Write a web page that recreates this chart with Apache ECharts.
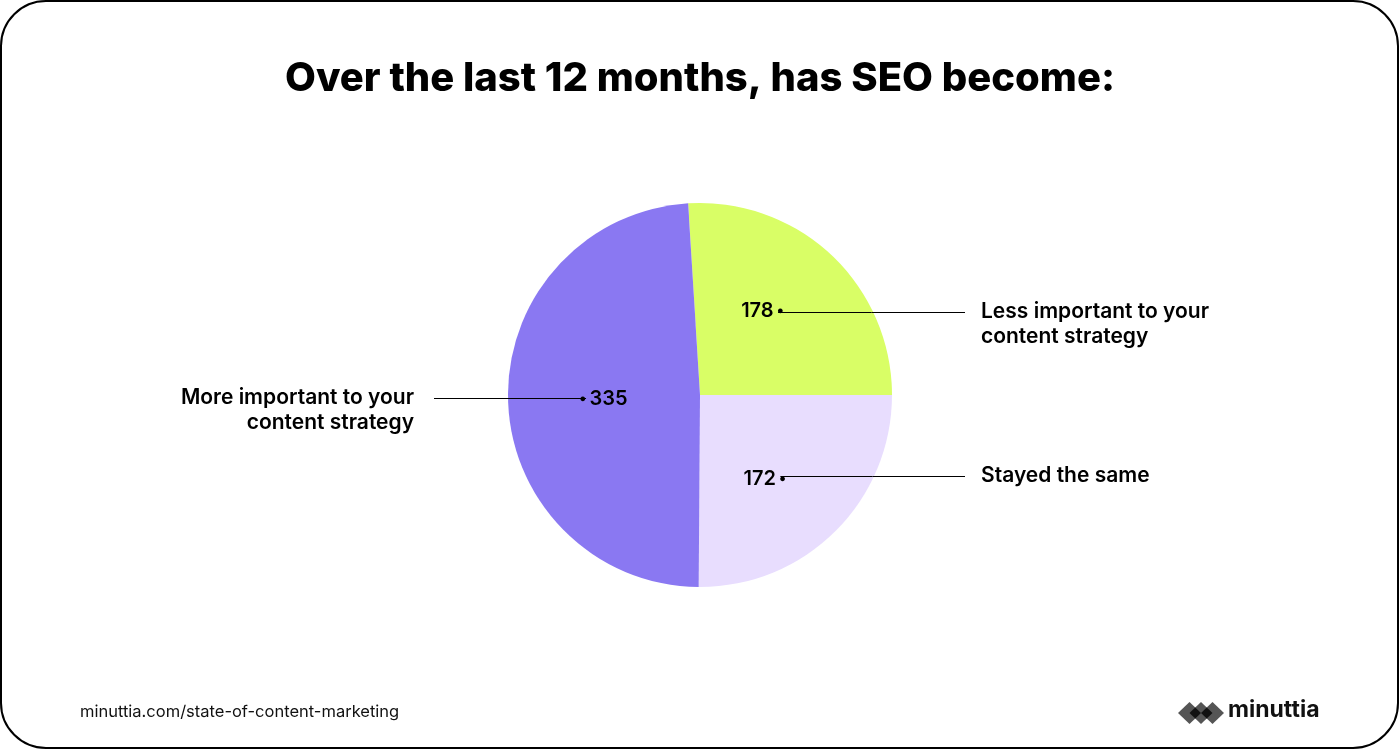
<!DOCTYPE html>
<html>
<head>
<meta charset="utf-8">
<script src="https://cdn.jsdelivr.net/npm/echarts@6/dist/echarts.min.js"></script>
<style>
  html, body { margin: 0; padding: 0; background: #ffffff; }
  #chart { width: 1400px; height: 750px; }
</style>
</head>
<body>
<div id="chart"></div>
<script>
// ---- data ----
const CATEGORIES = [
  'Less important to your\ncontent strategy',
  'Stayed the same',
  'More important to your\ncontent strategy'
];
const VALUES = [178, 172, 335];
const COLORS = ['#D9FE66', '#E8DDFE', '#8A78F2'];
const TITLE = 'Over the last 12 months, has SEO become:';
const SOURCE = 'minuttia.com/state-of-content-marketing';
const BRAND = 'minuttia';

// ---- layout / style ----
const CX = 700, CY = 395, R = 192, R_LABEL = 114;
const FONT = 'Inter, "Open Sans", sans-serif';
const TOTAL = VALUES.reduce((a, b) => a + b, 0);
const START_ANGLE = 360 * VALUES[0] / TOTAL; // green/lavender boundary at 3 o'clock

function isRightSide(i) {
  let before = 0;
  for (let k = 0; k < i; k++) before += VALUES[k];
  const mid = START_ANGLE - 360 * (before + VALUES[i] / 2) / TOTAL;
  return Math.cos(mid * Math.PI / 180) > 0;
}

const data = CATEGORIES.map((c, i) => ({ name: c, value: VALUES[i], itemStyle: { color: COLORS[i] } }));
const ghost = CATEGORIES.map((c, i) => ({ name: c, value: VALUES[i] }));

const chart = echarts.init(document.getElementById('chart'));
chart.setOption({
  backgroundColor: '#ffffff',
  animation: false,
  title: {
    text: TITLE,
    left: 'center',
    top: 54,
    textStyle: { fontFamily: FONT, fontWeight: 800, fontSize: 40, color: '#000' }
  },
  graphic: [
    { type: 'rect', shape: { x: 1, y: 1, width: 1397, height: 747, r: 45 },
      style: { fill: 'none', stroke: '#000', lineWidth: 2 }, silent: true },
    { type: 'text', left: 80, top: 704,
      style: { text: SOURCE, fontFamily: FONT, fontSize: 16.5, fill: '#111' } },
    { type: 'polygon', shape: { points: [[1178, 713], [1189.5, 702], [1201, 713], [1189.5, 724]] }, style: { fill: '#555' } },
    { type: 'polygon', shape: { points: [[1189.5, 713], [1201, 702], [1212.5, 713], [1201, 724]] }, style: { fill: '#555' } },
    { type: 'polygon', shape: { points: [[1201, 713], [1212.5, 702], [1224, 713], [1212.5, 724]] }, style: { fill: '#555' } },
    { type: 'polygon', shape: { points: [[1189.5, 713], [1195.25, 707.5], [1201, 713], [1195.25, 718.5]] }, style: { fill: '#111' } },
    { type: 'polygon', shape: { points: [[1201, 713], [1206.75, 707.5], [1212.5, 713], [1206.75, 718.5]] }, style: { fill: '#111' } },
    { type: 'text', left: 1228, top: 699,
      style: { text: BRAND, fontFamily: FONT, fontWeight: 700, fontSize: 23, fill: '#111' } }
  ],
  series: [
    {
      type: 'pie',
      z: 2,
      center: [CX, CY],
      radius: [0, R],
      startAngle: START_ANGLE,
      clockwise: true,
      silent: true,
      label: { show: false },
      labelLine: { show: false },
      itemStyle: { borderWidth: 0 },
      data: data
    },
    {
      type: 'pie',
      z: 6,
      center: [CX, CY],
      radius: [0, R_LABEL],
      startAngle: START_ANGLE,
      silent: true,
      itemStyle: { color: 'rgba(0,0,0,0)' },
      label: {
        show: true,
        position: 'outside',
        formatter: '{b}',
        fontFamily: FONT,
        fontWeight: 600,
        fontSize: 21,
        lineHeight: 25,
        color: '#000'
      },
      labelLine: { show: true, length: 0, length2: 20, lineStyle: { color: '#000', width: 1 } },
      labelLayout: function (p) {
        const pts = p.labelLinePoints;
        const p0 = pts[0];
        const right = p0[0] > CX;
        const end = right ? 965 : 434;
        const ly = Math.round(p0[1]) + 0.5;
        return {
          x: right ? 981 : 414,
          y: ly - 13,
          align: right ? 'left' : 'right',
          verticalAlign: 'top',
          labelLinePoints: [[p0[0], ly], [(p0[0] + end) / 2, ly], [end, ly]]
        };
      },
      data: ghost
    },
    {
      type: 'pie',
      z: 7,
      center: [CX, CY],
      radius: [R_LABEL - 0.5, R_LABEL + 0.5],
      startAngle: START_ANGLE,
      silent: true,
      itemStyle: { color: 'rgba(0,0,0,0)' },
      label: {
        show: true,
        position: 'inside',
        formatter: function (p) {
          return isRightSide(p.dataIndex)
            ? '{v|' + p.value + '} {d|●}'
            : '{d|●} {v|' + p.value + '}';
        },
        rich: {
          v: { fontFamily: FONT, fontWeight: 600, fontSize: 20, color: '#000' },
          d: { fontSize: 11, color: '#000' }
        }
      },
      labelLine: { show: false },
      labelLayout: function (p) {
        const r = p.labelRect;
        const px = r.x + r.width / 2, py = r.y + r.height / 2;
        const right = px > CX;
        return {
          x: right ? px + 3.5 : px - 3.5,
          y: Math.round(py) + 0.5,
          align: right ? 'right' : 'left',
          verticalAlign: 'middle'
        };
      },
      data: ghost
    }
  ]
});
</script>
</body>
</html>
